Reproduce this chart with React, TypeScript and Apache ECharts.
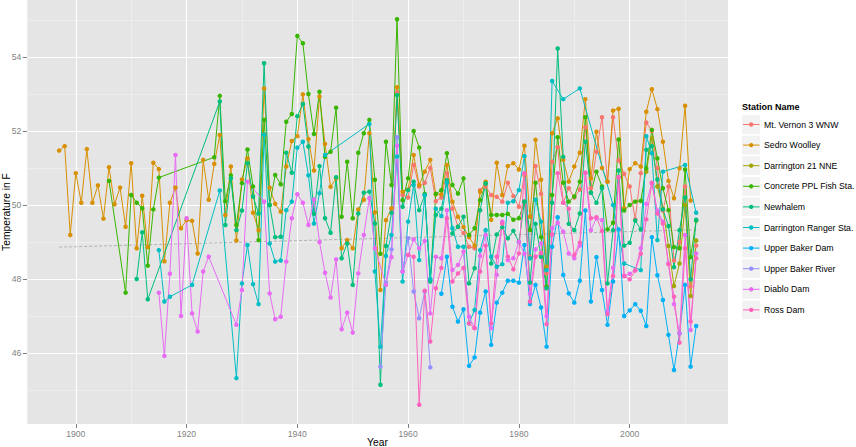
import React, { useEffect, useRef } from "react";
import * as echarts from "echarts";

const FONT = '"Liberation Sans", Arial, Helvetica, sans-serif';

const stationNames = [
  "Mt. Vernon 3 WNW",
  "Sedro Woolley",
  "Darrington 21 NNE",
  "Concrete PPL Fish Sta.",
  "Newhalem",
  "Darrington Ranger Sta.",
  "Upper Baker Dam",
  "Upper Baker River",
  "Diablo Dam",
  "Ross Dam",
];
const stationColors = [
  "#F8766D", "#D89000", "#A3A500", "#39B600", "#00BF7D",
  "#00BFC4", "#00B0F6", "#9590FF", "#E76BF3", "#FF62BC",
];

// Annual mean temperature (F), one value per year from the start year; null = no record
const vernonStart = 1957;
const vernon = [
  49.9, 53.05, 50.27, 50.2, 51.08, 50.5, 50.6, 51.0, 50.1, 50.2,
  50.86, 49.9, 49.41, 49.24, 48.87, 48.83, 50.4, 50.5, 50.27, 50.22,
  50.09, 50.6, 50.24, 49.95, 50.81, 48.59, 51.05, 50.3, 48.15, 51.17,
  51.56, 50.06, 50.45, 50.2, 50.42, 52.1, 50.45, 51.44, 52.37, 50.63,
  52.37, 51.2, 50.84, 50.5, 49.61, 50.86, 52.23, 52.0, 51.0, 49.85,
  50.5, 48.5, 49.0, 50.5, 47.8, 48.9,
];

const sedroStart = 1897;
const sedro = [
  51.47, 51.59, 49.19, 50.86, 50.06, 51.51, 50.06, 50.53, 49.63, 51.02,
  50.02, 50.47, 49.41, 51.13, 48.83, 50.25, 48.86, 51.14, 50.97, 48.48,
  50.06, 50.47, 49.37, 49.59, 49.57, 48.69, 51.22, 50.14, 51.11, 51.89,
  49.73, 51.04, 49.04, 50.69, 51.26, 49.79, 49.32, 53.15, 50.47, 50.03,
  49.82, 51.04, 51.73, 51.86, 52.99, 51.78, 50.93, 52.93, 51.65, 50.49,
  50.72, 48.83, 49.05, 48.83, 49.88, 50.14, 51.94, 49.8, 47.7, 49.59,
  49.91, 53.18, 50.36, 50.42, 51.35, 50.54, 50.9, 51.22, 50.29, 50.29,
  51.08, 50.09, 49.68, 49.4, 49.13, 48.9, 50.36, 50.63, 49.6, 51.14,
  50.27, 51.05, 51.13, 50.96, 51.6, 49.68, 51.76, 50.68, 48.33, 51.94,
  52.34, 51.22, 50.63, 51.04, 51.41, 52.86, 50.72, 51.98, 51.0, 50.63,
  52.55, 52.6, 49.91, 50.97, 51.13, 51.04, 52.52, 53.13, 52.59, 51.71,
  50.65, 50.18, 50.99, 52.68, 50.12,
];

const darr21Start = 2003;
const darr21 = [50.9, 51.8, 50.5, 49.9, 48.89, 47.81, 48.42, 50.0, 47.54, 49.04];

const concreteStart = 1906;
const concrete = [
  50.65, null, null, 47.63, 50.27, 50.06, 49.91, 48.36, 49.88, 50.74,
  null, null, null, null, null, null, null, null, null,
  51.29, 52.95, 50.1, 50.8, 49.46, 50.59, 51.5, 50.5, 49.05, 52.3,
  50.0, 50.81, 50.56, 52.25, 52.46, 54.57, 54.37, 53.0, 51.92, 53.06,
  51.3, 51.44, 52.63, 49.68, 51.17, 49.64, 51.41, 51.94, 52.3, 50.68,
  48.68, 51.71, 50.54, 55.02, 50.13, 50.72, 52.0, 51.55, 50.3, 47.97,
  50.3, 50.4, 51.4, 50.54, 50.31, 50.72, 49.19, 49.37, 50.13, 50.58,
  49.73, 49.73, 49.73, 49.76, 49.6, 49.64, 50.09, 49.32, 50.6, 49.13,
  47.8, 50.27, 51.83, 50.6, 50.09, 50.23, 50.63, 52.37, 50.33, 50.9,
  50.5, 49.34, 49.52, 51.77, 49.85, 50.0, 50.09, 50.11, 50.99, 52.03,
  51.26, 50.45, 49.86, 48.86, 48.83, 50.96, 48.59, 49.58,
];

const newhalemStart = 1911;
const newhalem = [
  48.0, 49.26, 47.45,
  null, null, null, null, null, null, null, null, null, null, null, null,
  52.8, 49.46, 50.72, 49.32, 49.85, 51.13, 50.23, 49.77, 53.83, 50.0,
  49.13, 49.14, 51.41, 50.87, 52.4, 52.73, 51.58, 49.76, 51.05, 49.64,
  49.25, 50.75, 48.56, 48.96, 47.84, 49.77, 50.33, 50.36, 49.5, 45.14,
  48.89, 49.79, 52.97, 49.95, 50.4, 50.63, 49.86, 50.27, 47.93, 49.73,
  49.9, 50.67, 49.23, 49.41, 49.68, 47.88, 48.29, 49.86, 50.58, 48.42,
  49.2, 49.4, 49.1, 49.3, 49.0, 50.09, 47.9, 49.49, 48.6, 47.75,
  50.06, 54.23, 51.3, 49.49, 49.32, 49.77, 51.71, 50.33, 50.06, 50.45,
  47.88, 49.32, 50.93, 48.9, 48.98, 49.58, 49.34, 51.49, 51.59, 50.69,
  49.88, 49.43, 48.32, 49.32, 50.2, 47.99, 49.6,
];

const rangerStart = 1915;
const ranger = [
  48.78, 47.39, 47.52, null, null, null, 47.84, null, null, null,
  null, 50.39, null, null, 45.32, 47.88, 48.92, 47.86, 47.32, 51.9,
  48.96, 48.47, 48.5, 49.86, 50.09, 51.55, 51.71, 50.8, 49.5, 50.32,
  51.35, null, null, null, null, null, null, null, 52.19, 48.2,
  46.17, 48.62, 49.19, 51.31, 47.93, 49.55, 50.54, 48.51, 50.27, 48.0,
  49.9, 49.7, 50.6, 49.37, 48.87, 48.87, 46.8, 47.16, 48.78, 49.32,
  48.6, 48.33, 48.4, 50.06, 50.1, 50.4, 51.32, 48.56, 50.14, 49.55,
  48.24, 53.35, null, 52.86, null, null, 53.15, null, null, null,
  null, null, 50.0, null, 48.42, null, null, 48.24, 51.86, 51.4,
  49.05, 50.9, null, null, null, 51.08, null, 49.79,
];

const bakerDamStart = 1966;
const bakerDam = [
  47.6, 48.6, 47.25, 46.85, 47.18, 45.65, 45.88, 47.09, 47.66, 46.22,
  47.36, 47.63, 47.95, 47.95, 47.9, 48.92, 47.32, 47.84, 47.23, 46.17,
  48.87, 49.67, 48.11, 47.61, 47.36, 47.95, 49.85, 47.39, 48.59, 47.7,
  46.76, 47.93, 49.34, 47.0, 47.15, 47.32, 47.14, 46.73, 49.13, 48.1,
  47.43, 46.49, 45.54, 46.53, 47.84, 45.63, 46.73,
];

const bakerRiverStart = 1955;
const bakerRiver = [45.63, 47.9, 48.8, 51.83, 48.2, 49.1, 47.66, 46.94, 47.66, 45.61];

const diabloStart = 1915;
const diablo = [
  47.63, 45.92, 48.14, 51.35, 47.0, 49.64, 47.07, 46.58, 48.2, 48.6,
  null, null, null, null, 46.76, 47.7, 50.63, null, null, 50.09,
  47.61, 46.91, 46.98, 48.47, 49.64, 50.29, 50.06, 49.46, 50.15, 49.0,
  48.17, 47.5, 48.53, 46.64, 47.09, 46.55, 48.15, 49.19, 50.18, 48.83,
  null, 47.84, 48.59, 51.6, 48.2, 48.65, 49.07, 48.83, 49.03, 47.07,
  48.6, 48.56, 49.86, 48.24, 48.38, 48.74, 46.98, 46.67, 48.62, 49.19,
  46.67, 48.11, 49.55, 48.51, 48.56, 49.0, 48.68, 47.6, 48.8, 48.96,
  47.0, 49.37, 49.52, 49.28, 48.69, 48.56, 48.9, 50.86, 49.32, 49.64,
  49.59, 47.12, 48.3, 50.75, 48.08, 48.14, 48.24, 48.83, 50.03, 50.6,
  49.85, 49.55, 48.42, 47.32, 46.53, 49.19, 46.62, 48.69,
];

const rossStart = 1960;
const ross = [
  48.65, 48.6, 44.6, 47.68, 46.31, 47.75, 48.3, 49.64, 47.93, 48.15,
  48.3, 46.8, 46.67, 48.2, 48.9, 46.8, 48.6, 49.5, 48.6, 48.26,
  48.69, 50.86, 47.39, 48.6, 48.7, 46.78, 49.2, 50.86, 50.06, 49.9,
  48.65, 48.98, 50.87, 49.64, 49.67, 49.3, 47.05, 48.08, 50.75, 48.08,
  47.99, 48.23, 48.68, 49.61, 50.59, 49.77, 49.5, 48.4, 47.52, 46.28,
  48.83, 46.85, 48.56,
];

// dashed overall trend
const trendYears = [1897, 2012];
const trendValues = [48.86, 49.33];

// axes
const xMin = 1891.25;
const xMax = 2017.75;
const yMin = 44.08;
const yMax = 55.54;
const xMajor = [1900, 1920, 1940, 1960, 1980, 2000];
const xMinor = [1910, 1930, 1950, 1970, 1990, 2010];
const yMajor = [46, 48, 50, 52, 54];
const yMinor = [45, 47, 49, 51, 53, 55];

const stationStarts = [
  vernonStart, sedroStart, darr21Start, concreteStart, newhalemStart,
  rangerStart, bakerDamStart, bakerRiverStart, diabloStart, rossStart,
];
const stationValues = [
  vernon, sedro, darr21, concrete, newhalem,
  ranger, bakerDam, bakerRiver, diablo, ross,
];

function toPoints(start: number, values: (number | null)[]) {
  const out: [number, number][] = [];
  values.forEach((v, i) => {
    if (v !== null && v !== undefined) out.push([start + i, v]);
  });
  return out;
}

export default function App() {
  const ref = useRef<HTMLDivElement>(null);

  useEffect(() => {
    document.body.style.margin = "0";
    document.body.style.padding = "0";
    if (!ref.current) return;
    const chart = echarts.init(ref.current, null, { renderer: "svg" });

    const gridLines = [
      ...xMinor.map((v) => ({ xAxis: v, lineStyle: { color: "#F2F2F2", width: 0.6, type: "solid" } })),
      ...yMinor.map((v) => ({ yAxis: v, lineStyle: { color: "#F2F2F2", width: 0.6, type: "solid" } })),
      ...xMajor.map((v) => ({ xAxis: v, lineStyle: { color: "#FFFFFF", width: 1.1, type: "solid" } })),
      ...yMajor.map((v) => ({ yAxis: v, lineStyle: { color: "#FFFFFF", width: 1.1, type: "solid" } })),
    ];

    const stationSeries = stationNames.map((name, i) => ({
      name,
      type: "line",
      data: toPoints(stationStarts[i], stationValues[i]),
      color: stationColors[i],
      lineStyle: { width: 1, color: stationColors[i] },
      itemStyle: { color: stationColors[i] },
      symbol: "circle",
      symbolSize: 4.5,
      showSymbol: true,
      z: 3,
      silent: true,
      emphasis: { disabled: true },
    }));

    const trendSeries = {
      name: "trend",
      type: "line",
      data: trendYears.map((y, i) => [y, trendValues[i]]),
      symbol: "none",
      lineStyle: { color: "#A6A6A6", width: 0.8, type: [3, 2] },
      z: 2,
      silent: true,
      emphasis: { disabled: true },
      markLine: {
        silent: true,
        z: 1,
        animation: false,
        symbol: ["none", "none"],
        label: { show: false },
        emphasis: { disabled: true },
        data: gridLines,
      },
    };

    const legendX = 742;
    const legendY0 = 124.5;
    const legendStep = 20.6;
    const legendGraphics: any[] = [
      {
        type: "text",
        x: legendX,
        y: 107,
        style: {
          text: "Station Name",
          fontSize: 9,
          fontWeight: "bold",
          fontFamily: FONT,
          fill: "#000000",
          verticalAlign: "middle",
          align: "left",
        },
      },
    ];
    stationNames.forEach((name, i) => {
      const cy = legendY0 + i * legendStep;
      legendGraphics.push(
        {
          type: "rect",
          shape: { x: legendX - 0.5, y: cy - 9.8, width: 19, height: 19.6 },
          style: { fill: "#F2F2F2", stroke: "#FFFFFF", lineWidth: 1 },
        },
        {
          type: "line",
          shape: { x1: legendX + 1, y1: cy, x2: legendX + 17.5, y2: cy },
          style: { stroke: stationColors[i], lineWidth: 1 },
        },
        {
          type: "circle",
          shape: { cx: legendX + 9.2, cy, r: 2.2 },
          style: { fill: stationColors[i] },
        },
        {
          type: "text",
          x: legendX + 22,
          y: cy,
          style: {
            text: name,
            fontSize: 8.7,
            fontFamily: FONT,
            fill: "#000000",
            verticalAlign: "middle",
            align: "left",
          },
        }
      );
    });

    chart.setOption({
      animation: false,
      backgroundColor: "#FFFFFF",
      textStyle: { fontFamily: FONT },
      grid: {
        left: 27.3,
        right: 128,
        top: 0,
        bottom: 23,
        show: true,
        backgroundColor: "#E5E5E5",
        borderWidth: 0,
        containLabel: false,
      },
      xAxis: {
        type: "value",
        min: xMin,
        max: xMax,
        splitNumber: 6,
        axisLine: { show: false },
        axisTick: {
          show: true,
          length: 4,
          lineStyle: { color: "#7F7F7F", width: 1 },
          customValues: xMajor,
        },
        axisLabel: {
          customValues: xMajor,
          color: "#7F7F7F",
          fontSize: 8.6,
          fontFamily: FONT,
          margin: 5,
          formatter: (v: number) => (xMajor.indexOf(v) >= 0 ? String(v) : ""),
        },
        splitLine: { show: false },
      },
      yAxis: {
        type: "value",
        min: yMin,
        max: yMax,
        splitNumber: 5,
        axisLine: { show: false },
        axisTick: {
          show: true,
          length: 4.5,
          lineStyle: { color: "#7F7F7F", width: 1 },
          customValues: yMajor,
        },
        axisLabel: {
          customValues: yMajor,
          color: "#7F7F7F",
          fontSize: 8.6,
          fontFamily: FONT,
          margin: 6,
          formatter: (v: number) => (yMajor.indexOf(v) >= 0 ? String(v) : ""),
        },
        splitLine: { show: false },
      },
      legend: { show: false },
      tooltip: { show: false },
      graphic: [
        {
          type: "text",
          x: 6,
          y: 212,
          rotation: Math.PI / 2,
          style: {
            text: "Temperature in F",
            fontSize: 10.3,
            fontFamily: FONT,
            fill: "#000000",
            align: "center",
            verticalAlign: "middle",
          },
        },
        {
          type: "text",
          x: 377.5,
          y: 442,
          style: {
            text: "Year",
            fontSize: 10.3,
            fontFamily: FONT,
            fill: "#000000",
            align: "center",
            verticalAlign: "middle",
          },
        },
        ...legendGraphics,
      ],
      series: [trendSeries, ...stationSeries],
    });

    return () => chart.dispose();
  }, []);

  return <div ref={ref} style={{ width: 856, height: 447 }} />;
}
